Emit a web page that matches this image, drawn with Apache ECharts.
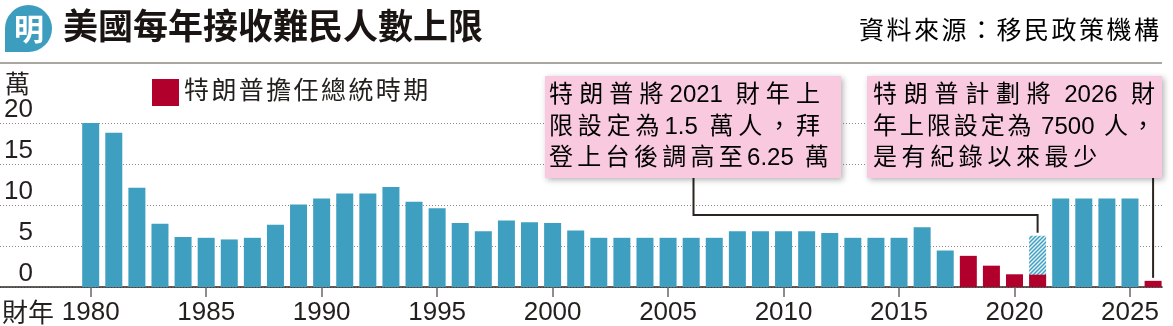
<!DOCTYPE html>
<html>
<head>
<meta charset="utf-8">
<script src="https://cdn.jsdelivr.net/npm/echarts@6/dist/echarts.min.js"></script>
<style>
  html, body { margin: 0; padding: 0; background: #ffffff; }
  #chart { width: 1173px; height: 326px; }
</style>
</head>
<body>
<div id="chart"></div>
<script>
// Refugee admission ceilings by fiscal year, in units of 10,000 people (萬)
const years = [
  1980, 1981, 1982, 1983, 1984, 1985, 1986, 1987, 1988, 1989,
  1990, 1991, 1992, 1993, 1994, 1995, 1996, 1997, 1998, 1999,
  2000, 2001, 2002, 2003, 2004, 2005, 2006, 2007, 2008, 2009,
  2010, 2011, 2012, 2013, 2014, 2015, 2016, 2017, 2018, 2019,
  2020, 2021, 2022, 2023, 2024, 2025, 2026
];
const ceilings = [
  20.0, 18.8, 12.1, 7.7, 6.1, 6.0, 5.8, 6.0, 7.6, 10.05,
  10.8, 11.4, 11.4, 12.2, 10.4, 9.6, 7.8, 6.8, 8.1, 7.9,
  7.8, 6.9, 6.0, 6.0, 6.0, 6.0, 6.0, 6.0, 6.8, 6.8,
  6.8, 6.8, 6.6, 6.0, 6.0, 6.0, 7.3, 4.45, 3.8, 2.6,
  1.55, 1.5, 10.8, 10.8, 10.8, 10.8, 0.75
];
// Fiscal years whose ceiling was set under Trump
const trumpYears = [2018, 2019, 2020, 2021, 2026];
// FY2021 ceiling after the Biden administration raised it
const raisedYear = 2021;
const raisedCeiling = 6.25;

const yTicks = [0, 5, 10, 15, 20];
const xTickYears = [1980, 1985, 1990, 1995, 2000, 2005, 2010, 2015, 2020, 2025];

const titleText = '美國每年接收難民人數上限';
const sourceText = '資料來源：移民政策機構';
const legendName = '特朗普擔任總統時期';
const unitText = '萬';
const fyText = '財年';
const note2021 = ['特朗普將2021 財年上', '限設定為1.5 萬人，拜', '登上台後調高至6.25 萬'];
const note2026 = ['特朗普計劃將 2026 財', '年上限設定為 7500 人，', '是有紀錄以來最少'];

// ---- styling ----
const FONT = '"Liberation Sans", "Noto Sans CJK TC", sans-serif';
const CJK = '"Noto Sans CJK TC", "Liberation Sans", sans-serif';
const INK = '#231f1c';
const BLUE = '#3f9fc0';
const RED = '#b1002b';
const PINK = '#f9c9df';

const measureCtx = document.createElement('canvas').getContext('2d');
function textWidth(s, size, weight) {
  measureCtx.font = (weight || 'normal') + ' ' + size + 'px ' + FONT;
  return measureCtx.measureText(s).width;
}
// Split a line into tokens: each CJK glyph alone, latin/digit runs (with their spaces) together
function tokenize(s) {
  const out = [];
  let run = '';
  for (const ch of s) {
    if (/[A-Za-z0-9. ]/.test(ch)) { run += ch; }
    else { if (run) { out.push(run); run = ''; } out.push(ch); }
  }
  if (run) out.push(run);
  return out;
}
// Builds rich text with letter tracking; lines listed in `justify` are stretched to `width`
function tracked(prefix, lines, o) {
  const rich = {};
  const parts = lines.map((line, i) => {
    const toks = tokenize(line);
    const ws = toks.map(t => textWidth(t, o.size, o.weight));
    let gap = o.tracking;
    if (o.width && o.justify && o.justify.indexOf(i) >= 0 && toks.length > 1) {
      gap = (o.width - ws.reduce((a, b) => a + b, 0)) / (toks.length - 1);
    }
    return toks.map((t, j) => {
      const key = prefix + i + '_' + j;
      rich[key] = {
        width: ws[j] + (j < toks.length - 1 ? gap : 0),
        fontSize: o.size, fontFamily: FONT, fontWeight: o.weight || 'normal',
        color: o.color || INK, lineHeight: o.lineHeight || o.size * 1.3
      };
      return '{' + key + '|' + t + '}';
    }).join('');
  });
  return { text: parts.join('\n'), rich: rich };
}

function hatchImage() {
  const c = document.createElement('canvas');
  c.width = 4; c.height = 4;
  const g = c.getContext('2d');
  g.fillStyle = '#e4f2f7';
  g.fillRect(0, 0, 4, 4);
  g.strokeStyle = BLUE;
  g.lineWidth = 1.4;
  g.beginPath();
  g.moveTo(0, 4); g.lineTo(4, 0);
  g.moveTo(-1, 1); g.lineTo(1, -1);
  g.moveTo(3, 5); g.lineTo(5, 3);
  g.stroke();
  return c;
}

const blueData = [];
const redData = [];
years.forEach((y, i) => {
  (trumpYears.indexOf(y) >= 0 ? redData : blueData).push([y, ceilings[i]]);
});
const raisedData = [[raisedYear, raisedCeiling]];

const legendRich = tracked('lg', [legendName], { size: 25, tracking: 2.4, lineHeight: 30 });

const chart = echarts.init(document.getElementById('chart'), null, { renderer: 'canvas' });

const option = {
  animation: false,
  backgroundColor: '#ffffff',
  grid: { left: 0, right: 11, top: 123, bottom: 38 },
  legend: {
    data: [legendName],
    left: 147, top: 74,
    icon: 'rect', itemWidth: 27, itemHeight: 27,
    selectedMode: false,
    formatter: () => legendRich.text,
    textStyle: { rich: legendRich.rich, color: INK }
  },
  xAxis: {
    type: 'value',
    min: 1976.073, max: 2026.386,
    splitLine: { show: false },
    axisLine: { show: true, onZero: false, lineStyle: { color: '#2c2724', width: 1.6 } },
    axisTick: { show: true, customValues: xTickYears, length: 10, lineStyle: { color: '#6b6764', width: 1.5 } },
    axisLabel: { customValues: xTickYears, formatter: v => String(v), margin: 13, fontSize: 26, fontFamily: FONT, color: INK }
  },
  yAxis: {
    type: 'value', min: yTicks[0], max: yTicks[yTicks.length - 1], interval: yTicks[1] - yTicks[0],
    name: unitText, nameLocation: 'end', nameGap: 27,
    nameTextStyle: { align: 'left', verticalAlign: 'bottom', fontSize: 25, fontFamily: CJK, color: INK, padding: [0, 0, 0, 5] },
    axisLine: { show: false },
    axisTick: { show: false },
    axisLabel: { inside: true, align: 'right', verticalAlign: 'bottom', margin: 33, fontSize: 26, fontFamily: FONT, color: INK },
    splitLine: { lineStyle: { type: [1, 2], color: '#8f8b88', width: 1 } }
  },
  series: [
    { type: 'bar', name: '拜登上調', data: raisedData, barWidth: 17, barGap: '-100%',
      itemStyle: { color: { image: hatchImage(), repeat: 'repeat' } }, silent: true },
    { type: 'bar', name: '其他年份', data: blueData, barWidth: 17, barGap: '-100%',
      itemStyle: { color: BLUE }, silent: true },
    { type: 'bar', name: legendName, data: redData, barWidth: 17, barGap: '-100%',
      itemStyle: { color: RED }, silent: true }
  ]
};
chart.setOption(option);

// Annotation boxes and their leader lines to the bars they describe
const box1 = { x: 545, y: 76, w: 296, h: 102 };
const box2 = { x: 867, y: 76, w: 295, h: 102 };
const t1 = tracked('a', note2021, { size: 24, tracking: 4.3, lineHeight: 31.5, width: 271, justify: [0, 1] });
const t2 = tracked('b', note2026, { size: 24, tracking: 4.6, lineHeight: 31.5, width: 282, justify: [0, 1] });
const srcRich = tracked('s', [sourceText], { size: 25, tracking: 2.5, lineHeight: 30, color: '#2a2623' });

const top2021 = chart.convertToPixel({ gridIndex: 0 }, raisedData[0]);
const i2026 = years.indexOf(2026);
const top2026 = chart.convertToPixel({ gridIndex: 0 }, [2026, ceilings[i2026]]);
const elbowY = box1.y + box1.h + 37;
const leader = { stroke: '#2a2520', lineWidth: 2 };
const boxStyle = { fill: PINK, shadowBlur: 6, shadowOffsetX: 2, shadowOffsetY: 2, shadowColor: 'rgba(0,0,0,0.3)' };

chart.setOption({
  graphic: [
    // masthead badge: circle with a squared lower-left corner
    { type: 'circle', shape: { cx: 28.5, cy: 28.5, r: 23.5 }, style: { fill: '#3c9dbf' } },
    { type: 'rect', shape: { x: 5, y: 28.5, width: 23.5, height: 23.5 }, style: { fill: '#3c9dbf' } },
    { type: 'text', x: 29, y: 29, style: { text: '明', fontSize: 30, fontWeight: 'bold', fontFamily: CJK, fill: '#ffffff', align: 'center', verticalAlign: 'middle' } },
    { type: 'text', x: 63, y: 8, style: { text: titleText, fontSize: 35, fontWeight: 'bold', fontFamily: CJK, fill: '#1a1512' } },
    { type: 'text', x: 859, y: 17, style: { text: srcRich.text, rich: srcRich.rich } },
    { type: 'line', shape: { x1: 0, y1: 63, x2: 1162, y2: 63 }, style: { stroke: '#aaa6a2', lineWidth: 2 } },
    { type: 'text', x: 2, y: 299, style: { text: fyText, fontSize: 26, fontFamily: CJK, fill: INK } },
    { type: 'polyline', z: 5, shape: { points: [
        [box1.x + box1.w / 2 + 0.5, box1.y + box1.h], [box1.x + box1.w / 2 + 0.5, elbowY],
        [top2021[0], elbowY], [top2021[0], top2021[1] - 3]] }, style: leader },
    { type: 'line', z: 5, shape: { x1: top2026[0], y1: box2.y + box2.h, x2: top2026[0], y2: top2026[1] - 3 }, style: leader },
    { type: 'rect', z: 6, shape: { x: box1.x, y: box1.y, width: box1.w, height: box1.h }, style: boxStyle },
    { type: 'text', z: 7, x: box1.x + 4, y: box1.y + 4, style: { text: t1.text, rich: t1.rich } },
    { type: 'rect', z: 6, shape: { x: box2.x, y: box2.y, width: box2.w, height: box2.h }, style: boxStyle },
    { type: 'text', z: 7, x: box2.x + 6, y: box2.y + 4, style: { text: t2.text, rich: t2.rich } }
  ]
});
</script>
</body>
</html>
